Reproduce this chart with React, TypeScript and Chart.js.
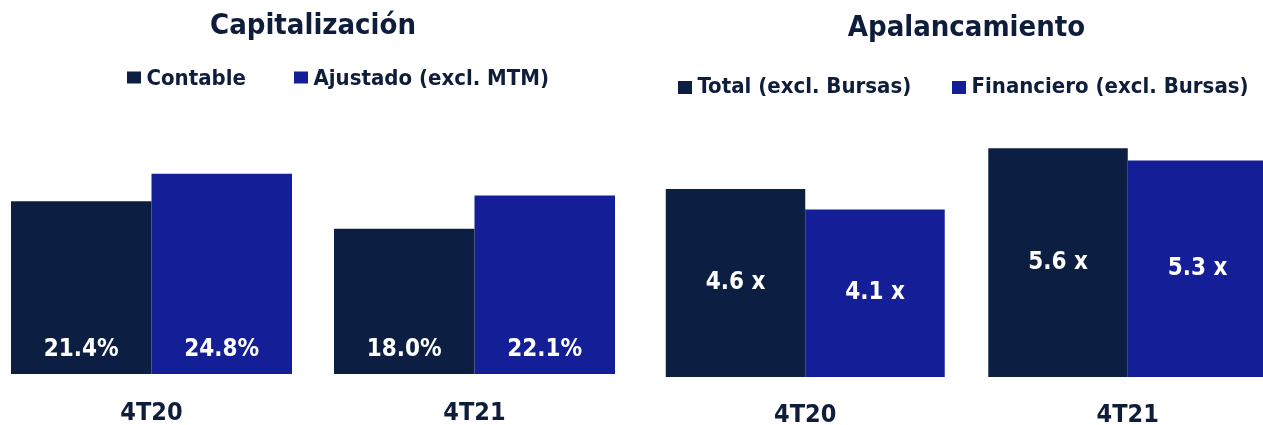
import React, { useEffect, useRef } from "react";
import { Chart, registerables } from "chart.js";

Chart.register(...registerables);

// ---------- data ----------
const categories = ["4T20", "4T21"];

const capTitle = "Capitalización";
const capSeriesNames = ["Contable", "Ajustado (excl. MTM)"];
const capContable = [21.4, 18.0];
const capAjustado = [24.8, 22.1];

const apaTitle = "Apalancamiento";
const apaSeriesNames = ["Total (excl. Bursas)", "Financiero (excl. Bursas)"];
const apaTotal = [4.6, 5.6];
const apaFinanciero = [4.1, 5.3];

// ---------- styles ----------
const NAVY = "#0c1f42";
const BLUE = "#131e97";
const TEXT = "#0e1d3c";
const FONT = "'DejaVu Sans Condensed', 'DejaVu Sans', sans-serif";

type LegendCfg = {
  originX: number;
  xs: number[];
  boxY: number;
  textY: number;
  boxW: number;
  boxH: number;
  textGap: number;
  fontSize: number;
};

function makeLegendPlugin(cfg: LegendCfg) {
  return {
    id: "manualLegend",
    afterDraw(chart: any) {
      const ctx = chart.ctx;
      ctx.save();
      ctx.font = `bold ${cfg.fontSize}px ${FONT}`;
      ctx.textBaseline = "middle";
      ctx.textAlign = "left";
      chart.data.datasets.forEach((ds: any, i: number) => {
        const x = cfg.xs[i] - cfg.originX;
        ctx.fillStyle = ds.backgroundColor;
        ctx.fillRect(x, cfg.boxY - cfg.boxH / 2, cfg.boxW, cfg.boxH);
        ctx.fillStyle = TEXT;
        ctx.fillText(ds.label, x + cfg.textGap, cfg.textY);
      });
      ctx.restore();
    },
  };
}

function makeValuePlugin(mode: "bottom" | "middle", offset: number, fmt: (v: number) => string) {
  return {
    id: "valueLabels",
    afterDatasetsDraw(chart: any) {
      const ctx = chart.ctx;
      ctx.save();
      ctx.font = `bold 24px ${FONT}`;
      ctx.fillStyle = "#ffffff";
      ctx.textAlign = "center";
      ctx.textBaseline = "middle";
      chart.data.datasets.forEach((ds: any, di: number) => {
        const meta = chart.getDatasetMeta(di);
        meta.data.forEach((bar: any, i: number) => {
          const y = mode === "bottom" ? bar.base - offset : (bar.y + bar.base) / 2;
          ctx.fillText(fmt(ds.data[i]), bar.x, y);
        });
      });
      ctx.restore();
    },
  };
}

type PanelProps = {
  left: number;
  width: number;
  height: number;
  title: string;
  titlePad: { top: number; bottom: number };
  names: string[];
  series: number[][];
  yMax: number;
  tickPad: number;
  catPct: number;
  legend: LegendCfg;
  valueMode: "bottom" | "middle";
  valueOffset: number;
  fmt: (v: number) => string;
};

function Panel(p: PanelProps) {
  const ref = useRef<HTMLCanvasElement>(null);
  useEffect(() => {
    if (!ref.current) return;
    const colors = [NAVY, BLUE];
    const chart = new Chart(ref.current, {
      type: "bar",
      data: {
        labels: categories,
        datasets: p.series.map((s, i) => ({
          label: p.names[i],
          data: s,
          backgroundColor: colors[i],
          borderWidth: 0,
          categoryPercentage: p.catPct,
          barPercentage: 1,
        })),
      },
      options: {
        animation: false,
        responsive: false,
        maintainAspectRatio: false,
        layout: { padding: 0 },
        plugins: {
          legend: { display: false },
          tooltip: { enabled: false },
          title: {
            display: true,
            text: p.title,
            color: TEXT,
            font: { family: FONT, size: 29, weight: "bold" },
            padding: p.titlePad,
          },
        },
        scales: {
          x: {
            grid: { display: false, drawTicks: false },
            border: { display: false },
            ticks: {
              color: TEXT,
              padding: p.tickPad,
              font: { family: FONT, size: 25, weight: "bold" },
            },
          },
          y: { display: false, min: 0, max: p.yMax },
        },
      },
      plugins: [makeLegendPlugin(p.legend), makeValuePlugin(p.valueMode, p.valueOffset, p.fmt)],
    } as any);
    return () => chart.destroy();
  }, []);
  return (
    <canvas
      ref={ref}
      width={p.width}
      height={p.height}
      style={{ position: "absolute", left: p.left, top: 0, width: p.width, height: p.height }}
    />
  );
}

export default function App() {
  return (
    <div
      style={{
        position: "fixed",
        left: 0,
        top: 0,
        width: 1263,
        height: 425,
        overflow: "hidden",
        background: "#ffffff",
      }}
    >
      <Panel
        left={-10}
        width={646}
        height={452}
        title={capTitle}
        titlePad={{ top: 9, bottom: 88 }}
        names={capSeriesNames}
        series={[capContable, capAjustado]}
        yMax={30}
        tickPad={24}
        catPct={0.87}
        legend={{ originX: -10, xs: [127, 294], boxY: 77.5, textY: 79, boxW: 14, boxH: 12, textGap: 19.5, fontSize: 22 }}
        valueMode="bottom"
        valueOffset={24}
        fmt={(v) => v.toFixed(1) + "%"}
      />
      <Panel
        left={644}
        width={645}
        height={453}
        title={apaTitle}
        titlePad={{ top: 11, bottom: 86 }}
        names={apaSeriesNames}
        series={[apaTotal, apaFinanciero]}
        yMax={6}
        tickPad={23}
        catPct={0.865}
        legend={{ originX: 644, xs: [678, 952], boxY: 87.5, textY: 87.5, boxW: 14, boxH: 13, textGap: 19.5, fontSize: 22 }}
        valueMode="middle"
        valueOffset={0}
        fmt={(v) => v.toFixed(1) + " x"}
      />
    </div>
  );
}
